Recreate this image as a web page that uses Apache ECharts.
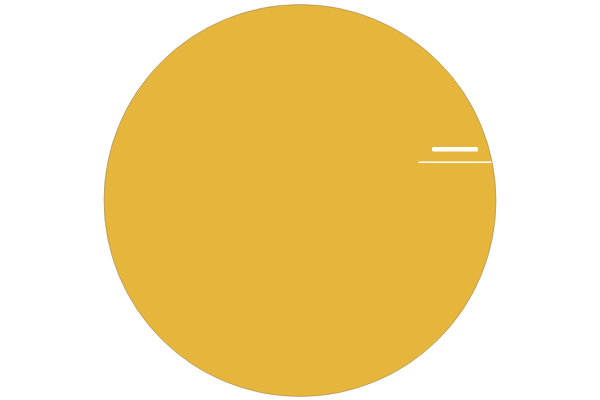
<!DOCTYPE html>
<html>
<head>
<meta charset="utf-8">
<script src="https://cdn.jsdelivr.net/npm/echarts@6/dist/echarts.min.js"></script>
<style>html,body{margin:0;padding:0;background:#fff;}#c{width:600px;height:400px;}</style>
</head>
<body>
<div id="c"></div>
<script>
var categories = ['Total'];
var values = [100];

var chart = echarts.init(document.getElementById('c'), null, {renderer: 'canvas'});
chart.setOption({
  animation: false,
  series: [{
    type: 'pie',
    center: [300, 200.5],
    radius: [0, 196],
    silent: true,
    data: categories.map(function (c, i) { return {name: c, value: values[i]}; }),
    itemStyle: {color: '#e6b53c', borderColor: '#9a8a60', borderWidth: 0.6},
    label: {
      show: true,
      position: 'center',
      offset: [155, -45.5],
      formatter: '{a|}\n{s|}\n{b|}',
      rich: {
        a: {width: 46, height: 4.5, lineHeight: 4.5, backgroundColor: '#fff', borderRadius: 1.5},
        s: {width: 1, height: 10, lineHeight: 10},
        b: {width: 73, height: 1.5, lineHeight: 1.5, backgroundColor: '#fff'}
      }
    },
    labelLine: {show: false}
  }]
});
</script>
</body>
</html>
